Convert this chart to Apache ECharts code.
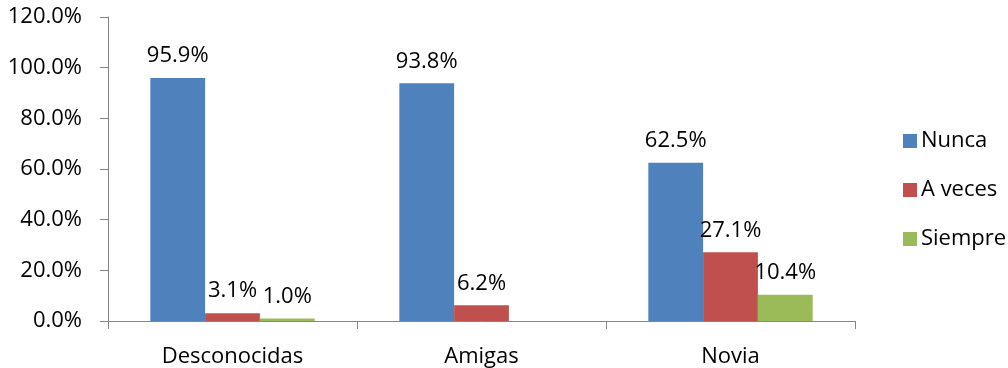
<!DOCTYPE html>
<html>
<head>
<meta charset="utf-8">
<script src="https://cdn.jsdelivr.net/npm/echarts@6/dist/echarts.min.js"></script>
<style>
html, body { margin: 0; padding: 0; background: #fff; }
#main { width: 1008px; height: 368px; }
</style>
</head>
<body>
<div id="main"></div>
<script>
var categories = ['Desconocidas', 'Amigas', 'Novia'];
var nunca = [95.9, 93.8, 62.5];
var aveces = [3.1, 6.2, 27.1];
var siempre = [1.0, null, 10.4];

var font = 'Open Sans';
var fs = 22;
var axisColor = '#868686';

function pct(v) { return v.toFixed(1) + '%'; }

function bar(name, data, color) {
    return {
        name: name,
        type: 'bar',
        data: data,
        barGap: 0,
        barCategoryGap: '34%',
        itemStyle: { color: color },
        label: {
            show: true,
            position: 'top',
            distance: 11,
            color: '#000',
            fontFamily: font,
            fontSize: fs,
            formatter: function (p) { return pct(p.value); }
        }
    };
}

var chart = echarts.init(document.getElementById('main'));
chart.setOption({
    animation: false,
    grid: { left: 108, right: 153, top: 17, bottom: 47, outerBoundsMode: 'none' },
    legend: {
        orient: 'vertical',
        left: 898,
        top: 125,
        itemWidth: 14,
        itemHeight: 14,
        itemGap: 27,
        icon: 'rect',
        textStyle: { fontFamily: font, fontSize: fs, color: '#000', padding: [0, 0, 0, -1] },
        data: ['Nunca', 'A veces', 'Siempre']
    },
    xAxis: {
        type: 'category',
        data: categories,
        axisLine: { lineStyle: { color: axisColor } },
        axisTick: { show: true, length: 8, lineStyle: { color: axisColor } },
        axisLabel: { margin: 25, color: '#000', fontFamily: font, fontSize: fs }
    },
    yAxis: {
        type: 'value',
        min: 0,
        max: 120,
        interval: 20,
        splitLine: { show: false },
        axisLine: { show: true, lineStyle: { color: axisColor } },
        axisTick: { show: true, length: 8, lineStyle: { color: axisColor } },
        axisLabel: {
            margin: 26,
            color: '#000',
            fontFamily: font,
            fontSize: fs,
            formatter: function (v) { return pct(v); }
        }
    },
    series: [
        bar('Nunca', nunca, '#4F81BD'),
        bar('A veces', aveces, '#C0504D'),
        bar('Siempre', siempre, '#9BBB59')
    ]
});
</script>
</body>
</html>
